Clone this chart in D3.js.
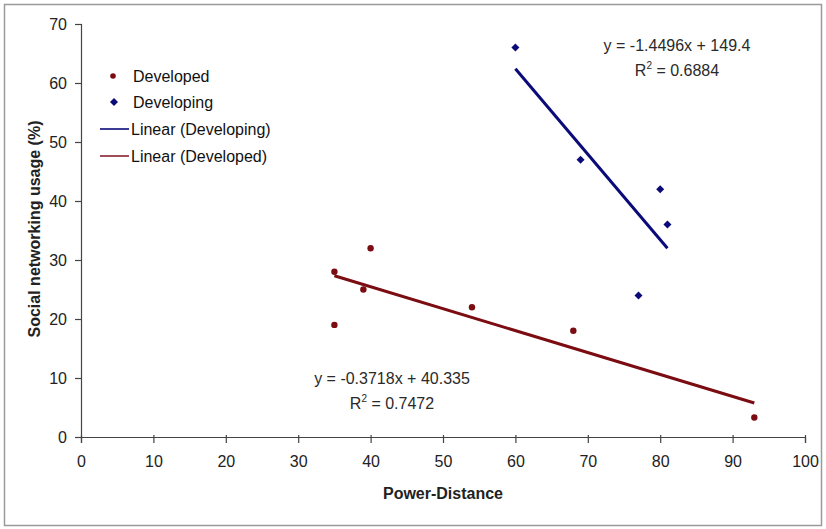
<!DOCTYPE html>
<html>
<head>
<meta charset="utf-8">
<script src="https://cdn.jsdelivr.net/npm/d3@7"></script>
<style>
  body { margin: 0; background: #fff; }
  svg { font-family: "Liberation Sans", Arial, sans-serif; }
</style>
</head>
<body>
<div id="container"></div>
<script>
const width = 826;
const height = 529;

// data
const developed = [[35, 28], [35, 19], [39, 25], [40, 32], [54, 22], [68, 18], [93, 3.3]];
const developing = [[60, 66], [69, 47], [77, 24], [80, 42], [81, 36]];
// trend lines: slope, intercept, x range
const fitDeveloping = { m: -1.4496, b: 149.4, x: [60, 81] };
const fitDeveloped = { m: -0.3718, b: 40.335, x: [35, 93] };
const xTicks = [0, 10, 20, 30, 40, 50, 60, 70, 80, 90, 100];
const yTicks = [0, 10, 20, 30, 40, 50, 60, 70];

const red = "#7a0c12";
const navy = "#0a0a78";

const svg = d3.select("#container").append("svg")
  .attr("width", width)
  .attr("height", height);

// outer frame
svg.append("rect")
  .attr("x", 4.5).attr("y", 4.5)
  .attr("width", 817).attr("height", 521)
  .attr("fill", "#fff")
  .attr("stroke", "#9a9a9a")
  .attr("stroke-width", 1.5);

const x = d3.scaleLinear().domain([0, 100]).range([81, 805]);
const y = d3.scaleLinear().domain([0, 70]).range([437, 24]);

// axes
const xAxis = svg.append("g")
  .attr("transform", "translate(0,437)")
  .call(d3.axisBottom(x).tickValues(xTicks).tickSize(6).tickPadding(13));
const yAxis = svg.append("g")
  .attr("transform", "translate(81,0)")
  .call(d3.axisLeft(y).tickValues(yTicks).tickSize(6).tickPadding(8));

[xAxis, yAxis].forEach(g => {
  g.select(".domain").attr("stroke", "#444").attr("stroke-width", 1.2);
  g.selectAll(".tick line").attr("stroke", "#444").attr("stroke-width", 1.2);
  g.selectAll(".tick text")
    .attr("fill", "#222")
    .style("font-size", "16px")
    .style("font-family", "'Liberation Sans', Arial, sans-serif");
});
// x ticks cross the axis slightly upward as in Excel
xAxis.selectAll(".tick line").attr("y1", -2);
yAxis.selectAll(".tick line").attr("x1", 1);

// axis titles
svg.append("text")
  .attr("x", 443).attr("y", 499)
  .attr("text-anchor", "middle")
  .attr("font-weight", "bold")
  .attr("font-size", 16)
  .attr("fill", "#222")
  .text("Power-Distance");
svg.append("text")
  .attr("transform", "translate(40,229) rotate(-90)")
  .attr("text-anchor", "middle")
  .attr("font-weight", "bold")
  .attr("font-size", 16)
  .attr("fill", "#222")
  .text("Social networking usage (%)");

// trend lines
function drawFit(f, color) {
  svg.append("line")
    .attr("x1", x(f.x[0])).attr("y1", y(f.m * f.x[0] + f.b))
    .attr("x2", x(f.x[1])).attr("y2", y(f.m * f.x[1] + f.b))
    .attr("stroke", color)
    .attr("stroke-width", 3);
}
drawFit(fitDeveloping, navy);
drawFit(fitDeveloped, red);

// points
svg.append("g").selectAll("circle")
  .data(developed)
  .enter()
  .append("circle")
  .attr("cx", d => x(d[0]))
  .attr("cy", d => y(d[1]))
  .attr("r", 3.2)
  .attr("fill", red);

// square diamond like Excel's marker
const diamond = "M0,-4L4,0L0,4L-4,0Z";
svg.append("g").selectAll("path")
  .data(developing)
  .enter()
  .append("path")
  .attr("d", diamond)
  .attr("transform", d => `translate(${x(d[0])},${y(d[1])})`)
  .attr("fill", navy);

// equations
function eq(tx, ty, line1, r2) {
  svg.append("text")
    .attr("x", tx).attr("y", ty)
    .attr("text-anchor", "middle")
    .attr("font-size", 16)
    .attr("fill", "#2a2a2a")
    .text(line1);
  const r = svg.append("text")
    .attr("x", tx).attr("y", ty + 25)
    .attr("text-anchor", "middle")
    .attr("font-size", 16)
    .attr("fill", "#2a2a2a");
  r.append("tspan").text("R");
  r.append("tspan").attr("dy", -7).attr("font-size", 10).text("2");
  r.append("tspan").attr("dy", 7).text(" = " + r2);
}
eq(677, 51, "y = -1.4496x + 149.4", "0.6884");
eq(392, 384, "y = -0.3718x + 40.335", "0.7472");

// legend
const legend = svg.append("g").attr("font-size", 16).attr("fill", "#111");
legend.append("circle").attr("cx", 113).attr("cy", 76).attr("r", 2.8).attr("fill", red);
legend.append("text").attr("x", 133).attr("y", 82).text("Developed");
legend.append("path").attr("d", diamond)
  .attr("transform", "translate(114,102)").attr("fill", navy);
legend.append("text").attr("x", 133).attr("y", 108).text("Developing");
legend.append("line").attr("x1", 100).attr("x2", 129).attr("y1", 129).attr("y2", 129)
  .attr("stroke", navy).attr("stroke-width", 1.6);
legend.append("text").attr("x", 131).attr("y", 135).text("Linear (Developing)");
legend.append("line").attr("x1", 100).attr("x2", 129).attr("y1", 156).attr("y2", 156)
  .attr("stroke", "#8a2030").attr("stroke-width", 1.6);
legend.append("text").attr("x", 131).attr("y", 162).text("Linear (Developed)");
</script>
</body>
</html>
